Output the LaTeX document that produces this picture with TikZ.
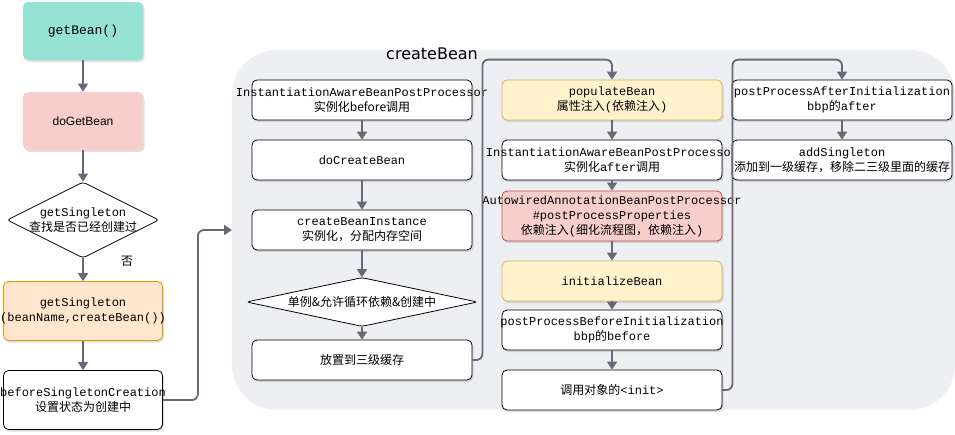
\documentclass[tikz,border=0pt]{standalone}
\usepackage{fontspec}
\setmainfont{Liberation Sans}
\setmonofont{Liberation Mono}
\newfontfamily\zh{Noto Sans CJK SC}
\newfontfamily\hand{DejaVu Sans}
\usetikzlibrary{arrows.meta,shadows,shapes.geometric}
\definecolor{arrowgrey}{RGB}{104,104,118}
\definecolor{panelgrey}{RGB}{238,239,242}
\definecolor{tealfill}{RGB}{150,227,213}
\definecolor{redfill}{RGB}{248,206,204}
\definecolor{redline}{RGB}{184,84,80}
\definecolor{orangefill}{RGB}{255,230,204}
\definecolor{orangeline}{RGB}{215,155,0}
\definecolor{yellowfill}{RGB}{255,242,204}
\definecolor{yellowline}{RGB}{214,182,86}
\newcommand{\fitline}[1]{\makebox[140pt]{#1}}
\tikzset{
  box/.style={draw=black, fill=white, rounded corners=5pt, line width=0.8pt,
    align=center, inner sep=0pt, font=\ttfamily\fontsize{12}{15}\selectfont,
    drop shadow={opacity=0.25, shadow xshift=1.5pt, shadow yshift=-2pt}},
  colbox/.style={box, minimum width=220pt, minimum height=40pt},
  leftbox/.style={box, minimum width=159pt, minimum height=59pt},
  decide/.style={align=center, inner sep=0pt, font=\ttfamily\fontsize{12}{15}\selectfont},
  choice/.style={diamond, draw=black, fill=white, line width=0.8pt, inner sep=0pt,
    rounded corners=3pt},
  flow/.style={draw=arrowgrey, line width=1.8pt, rounded corners=6pt,
    -{Triangle[length=8pt,width=10pt]}},
}
\begin{document}
\begin{tikzpicture}[x=1pt,y=-1pt]
  \useasboundingbox (0,0) rectangle (955,434);
  \fill[panelgrey, rounded corners=45pt] (232,50) rectangle (955,410);
  \node[font=\hand\fontsize{16}{18}\selectfont, anchor=base] (cbtitle) at (432,59) {createBean};
  \coordinate (cbin) at (232,230);

  \node[box, draw=none, fill=tealfill, minimum width=120pt, minimum height=58pt,
    font=\ttfamily\fontsize{13}{15}\selectfont] (getbean) at (83,31) {getBean()};
  \node[box, draw=none, fill=redfill, minimum width=120pt, minimum height=58pt,
    font=\fontsize{12}{15}\selectfont] (dogetbean) at (83,121) {doGetBean};
  \node[choice, minimum width=152pt, minimum height=76pt,
    label={[decide]center:{getSingleton\\{\zh 查找是否已经创建过}}}] (check) at (83,220) {};
  \node[font=\zh\fontsize{12}{14}\selectfont] (no) at (127,261) {否};
  \node[leftbox, draw=orangeline, fill=orangefill] (getsingleton) at (83,311) {getSingleton\\\fitline{(beanName,createBean())}};
  \node[leftbox] (beforecreation) at (83,400) {\fitline{beforeSingletonCreation}\\{\zh 设置状态为创建中}};

  \node[colbox] (iabefore) at (362,100) {\fitline{InstantiationAwareBeanPostProcessor}\\{\zh 实例化before调用}};
  \node[colbox] (docreate) at (362,160) {doCreateBean};
  \node[colbox] (createinst) at (362,230) {createBeanInstance\\{\zh 实例化，分配内存空间}};
  \node[choice, minimum width=231pt, minimum height=49pt,
    label={[decide]center:{\zh 单例\&允许循环依赖\&创建中}}] (early) at (362,302) {};
  \node[colbox, font=\zh\fontsize{12}{15}\selectfont] (putcache) at (362,360) {放置到三级缓存};

  \node[colbox, draw=yellowline, fill=yellowfill] (populate) at (612,100) {populateBean\\{\zh 属性注入}({\zh 依赖注入})};
  \node[colbox] (iaafter) at (612,160) {\fitline{InstantiationAwareBeanPostProcessor}\\{\zh 实例化}after{\zh 调用}};
  \node[colbox, draw=redline, fill=redfill, minimum height=50pt] (autowired) at (612,216)
    {\fitline{AutowiredAnnotationBeanPostProcessor}\\\#postProcessProperties\\{\zh 依赖注入}({\zh 细化流程图，依赖注入})};
  \node[colbox, draw=yellowline, fill=yellowfill] (initbean) at (612,281) {initializeBean};
  \node[colbox] (ppbefore) at (612,330) {\fitline{postProcessBeforeInitialization}\\bbp{\zh 的}before};
  \node[colbox] (callinit) at (612,390) {{\zh 调用对象的}<init>};

  \node[colbox] (ppafter) at (842,100) {\fitline{postProcessAfterInitialization}\\bbp{\zh 的}after};
  \node[colbox] (addsingleton) at (842,160) {addSingleton\\\fitline{\zh 添加到一级缓存，移除二三级里面的缓存}};

  \draw[flow] (getbean) -- (dogetbean);
  \draw[flow] (dogetbean) -- (check);
  \draw[flow] (check) -- (getsingleton);
  \draw[flow] (getsingleton) -- (beforecreation);
  \draw[flow] (beforecreation.east) -- ++(35,0) |- (cbin);

  \draw[flow] (iabefore) -- (docreate);
  \draw[flow] (docreate) -- (createinst);
  \draw[flow] (createinst) -- (early);
  \draw[flow] (early) -- (putcache);
  \draw[flow] (putcache.east) -- ++(10,0) |- ([yshift=20pt]populate.north) -- (populate.north);

  \draw[flow] (populate) -- (iaafter);
  \draw[flow] (iaafter) -- (autowired);
  \draw[flow] (autowired) -- (initbean);
  \draw[flow] (initbean) -- (ppbefore);
  \draw[flow] (ppbefore) -- (callinit);
  \draw[flow] (callinit.east) -- ++(10,0) |- ([yshift=20pt]ppafter.north) -- (ppafter.north);

  \draw[flow] (ppafter) -- (addsingleton);
\end{tikzpicture}
\end{document}
